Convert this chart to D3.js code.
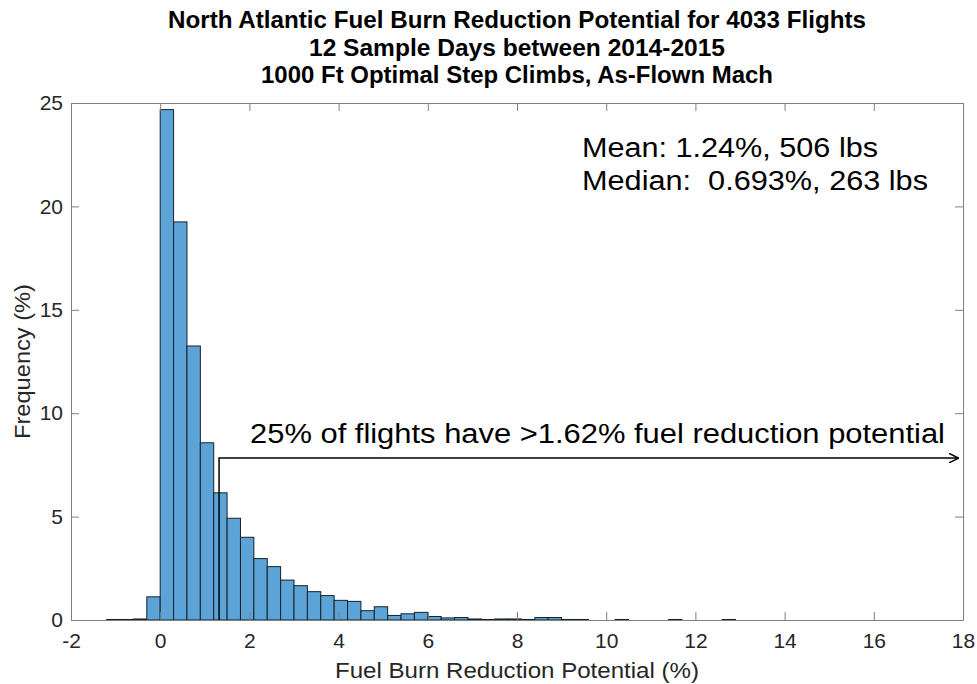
<!DOCTYPE html>
<html>
<head>
<meta charset="utf-8">
<script src="https://cdn.jsdelivr.net/npm/d3@7"></script>
<style>
  body { margin: 0; background: #fff; }
  text { font-family: "Liberation Sans", Arial, sans-serif; }
</style>
</head>
<body>
<div id="chart"></div>
<script>
// histogram bins (lower edge, %) and frequency (%)
var binLefts = [-1.2, -0.9, -0.6, -0.3, 0.0, 0.3, 0.6, 0.9, 1.2, 1.5, 1.8, 2.1, 2.4, 2.7, 3.0,
    3.3, 3.6, 3.9, 4.2, 4.5, 4.8, 5.1, 5.4, 5.7, 6.0, 6.3, 6.6, 6.9, 7.2, 7.5, 7.8, 8.1,
    8.4, 8.7, 9.0, 9.3, 10.2, 11.4, 12.6];
var freqs = [0.025, 0.025, 0.05, 1.12, 24.68, 19.25, 13.25, 8.57, 6.15, 4.92, 4.0, 2.97, 2.58, 1.93, 1.66,
    1.37, 1.18, 0.95, 0.90, 0.45, 0.64, 0.22, 0.30, 0.37, 0.17, 0.10, 0.12, 0.05, 0.025, 0.05, 0.05, 0.025,
    0.12, 0.12, 0.025, 0.025, 0.025, 0.025, 0.025];
var binWidth = 0.3;

var xTicks = [-2, 0, 2, 4, 6, 8, 10, 12, 14, 16, 18];
var yTicks = [0, 5, 10, 15, 20, 25];

var titleLines = ['North Atlantic Fuel Burn Reduction Potential for 4033 Flights',
    '12 Sample Days between 2014-2015',
    '1000 Ft Optimal Step Climbs, As-Flown Mach'];
var titleWidths = [698, 416, 512];
var statLines = ['Mean: 1.24%, 506 lbs', 'Median:  0.693%, 263 lbs'];
var statWidths = [296, 346];
var arrowText = '25% of flights have >1.62% fuel reduction potential';
var arrowStart = [1.32, 7.83];
var arrowEnd = 17.9;

var width = 977, height = 684;
var margin = {top: 103, right: 14, bottom: 64, left: 71};
var w = width - margin.left - margin.right;
var h = height - margin.top - margin.bottom;

var x = d3.scaleLinear().domain([-2, 18]).range([0, w]);
var y = d3.scaleLinear().domain([0, 25]).range([h, 0]);

var svg = d3.select('#chart')
    .append('svg')
    .attr('width', width)
    .attr('height', height);

var g = svg.append('g')
    .attr('transform', 'translate(' + margin.left + ',' + margin.top + ')');

var bins = binLefts.map((b, i) => ({x0: b, f: freqs[i]}));

g.selectAll('rect.bar')
    .data(bins)
    .enter()
    .append('rect')
    .attr('class', 'bar')
    .attr('x', d => x(d.x0))
    .attr('width', d => x(d.x0 + binWidth) - x(d.x0))
    .attr('y', d => y(d.f))
    .attr('height', d => y(0) - y(d.f))
    .attr('fill', '#5ca4d7')
    .attr('stroke', '#15222c')
    .style('stroke-width', '1px');

// axes, MATLAB style: box with inward ticks on all sides
var axisColor = '#808080';
var tickLen = 8;

var xAxis = g.append('g')
    .attr('transform', 'translate(0,' + h + ')')
    .call(d3.axisBottom(x).tickValues(xTicks).tickSizeInner(-tickLen).tickSizeOuter(0).tickPadding(13)
        .tickFormat(d => String(d)));
var yAxis = g.append('g')
    .call(d3.axisLeft(y).tickValues(yTicks).tickSizeInner(-tickLen).tickSizeOuter(0).tickPadding(8)
        .tickFormat(d => String(d)));
var xTop = g.append('g')
    .call(d3.axisTop(x).tickValues(xTicks).tickSizeInner(-tickLen).tickSizeOuter(0).tickFormat(''));
var yRight = g.append('g')
    .attr('transform', 'translate(' + w + ',0)')
    .call(d3.axisRight(y).tickValues(yTicks).tickSizeInner(-tickLen).tickSizeOuter(0).tickFormat(''));

[xAxis, yAxis, xTop, yRight].forEach(function (a) {
    a.select('.domain').attr('stroke', axisColor);
    a.selectAll('.tick line').attr('stroke', axisColor);
    a.selectAll('.tick text')
        .attr('fill', '#262626')
        .style('font-size', '21px')
        .style('font-family', '"Liberation Sans", Arial, sans-serif');
});

// axis labels
svg.append('text')
    .attr('x', margin.left + w / 2)
    .attr('y', 678)
    .attr('text-anchor', 'middle')
    .attr('fill', '#262626')
    .attr('textLength', 364)
    .attr('lengthAdjust', 'spacingAndGlyphs')
    .style('font-size', '22px')
    .text('Fuel Burn Reduction Potential (%)');

svg.append('text')
    .attr('transform', 'translate(30,' + (margin.top + h / 2) + ') rotate(-90)')
    .attr('text-anchor', 'middle')
    .attr('fill', '#262626')
    .attr('textLength', 155)
    .attr('lengthAdjust', 'spacingAndGlyphs')
    .style('font-size', '22px')
    .text('Frequency (%)');

// title
svg.selectAll('text.title')
    .data(titleLines)
    .enter()
    .append('text')
    .attr('class', 'title')
    .attr('x', margin.left + w / 2)
    .attr('y', (d, i) => 28 + i * 27.5)
    .attr('text-anchor', 'middle')
    .attr('textLength', (d, i) => titleWidths[i])
    .attr('lengthAdjust', 'spacingAndGlyphs')
    .attr('fill', '#000')
    .style('font-size', '23px')
    .style('font-weight', 'bold')
    .text(d => d);

// stats text
g.selectAll('text.stat')
    .data(statLines)
    .enter()
    .append('text')
    .attr('class', 'stat')
    .attr('x', 582 - margin.left)
    .attr('y', (d, i) => 157 - margin.top + i * 33)
    .attr('textLength', (d, i) => statWidths[i])
    .attr('lengthAdjust', 'spacingAndGlyphs')
    .attr('fill', '#000')
    .style('font-size', '27px')
    .style('white-space', 'pre')
    .text(d => d);

// arrow annotation
g.append('defs').append('marker')
    .attr('id', 'arrowhead')
    .attr('viewBox', '0 0 10 10')
    .attr('refX', 10)
    .attr('refY', 5)
    .attr('markerWidth', 10)
    .attr('markerHeight', 10)
    .attr('markerUnits', 'userSpaceOnUse')
    .attr('orient', 'auto')
    .append('path')
    .attr('d', 'M0,0 L10,5 L0,10')
    .attr('fill', 'none')
    .attr('stroke', '#000')
    .attr('stroke-width', 1.5);

g.append('path')
    .attr('d', 'M' + x(arrowStart[0]) + ',' + y(0) + ' L' + x(arrowStart[0]) + ',' + y(arrowStart[1]) +
        ' L' + x(arrowEnd) + ',' + y(arrowStart[1]))
    .attr('fill', 'none')
    .attr('stroke', '#000')
    .attr('stroke-width', 1.5)
    .attr('marker-end', 'url(#arrowhead)');

g.append('text')
    .attr('x', 250 - margin.left)
    .attr('y', 443 - margin.top)
    .attr('textLength', 695)
    .attr('lengthAdjust', 'spacingAndGlyphs')
    .attr('fill', '#000')
    .style('font-size', '27px')
    .text(arrowText);
</script>
</body>
</html>
